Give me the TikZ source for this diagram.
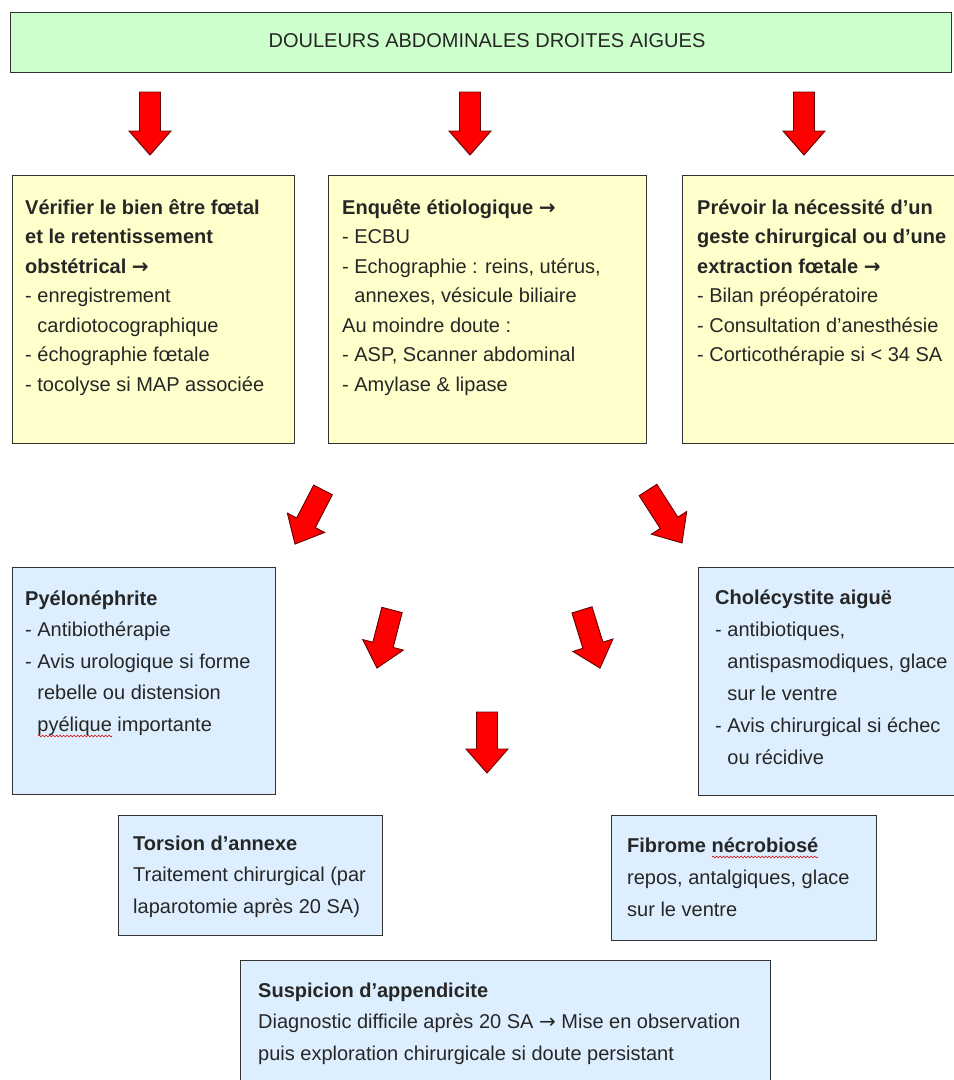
\documentclass[tikz,border=0pt]{standalone}
\usepackage{fontspec}
\setmainfont{Liberation Sans}
\newfontfamily\djv{DejaVu Sans}
\usetikzlibrary{decorations.pathmorphing}
\definecolor{gfill}{HTML}{CCFFCC}
\definecolor{yfill}{HTML}{FFFFCC}
\definecolor{bfill}{HTML}{DDEFFF}
\definecolor{bordc}{HTML}{333333}
\newcommand\arr{{\djv →}}
\newcommand\ind{\hphantom{- }}
\newcommand\blockarrow[4]{%
  \draw[redarr, shift={(#1,#2)}, rotate=#3]
    (-#4,-10.5) -- (#4-24,-10.5) -- (#4-24,-21) -- (#4,0) -- (#4-24,21) -- (#4-24,10.5) -- (-#4,10.5) -- cycle;}
\tikzset{
  boxbase/.style={draw=bordc, line width=1.4pt, anchor=north west, inner sep=0pt},
  gbox/.style={boxbase, fill=gfill},
  ybox/.style={boxbase, fill=yfill},
  bbox/.style={boxbase, fill=bfill},
  txtA/.style={anchor=north west, inner sep=0pt, align=left, text=black!85, font=\fontsize{20}{29.5}\selectfont},
  txtB/.style={anchor=north west, inner sep=0pt, align=left, text=black!85, font=\fontsize{20}{31.5}\selectfont},
  redarr/.style={fill=red, draw=black!60!red, line width=0.9pt, line join=miter},
  squig/.style={draw=red!85!black, line width=0.6pt, decorate, decoration={snake, amplitude=0.9pt, segment length=3.5pt}}
}
\begin{document}
\begin{tikzpicture}[x=1pt,y=-1pt]
\useasboundingbox (0,0) rectangle (954,1080);
\clip (0,0) rectangle (954,1080);
\fill[white] (0,0) rectangle (954,1080);

% title
\node[gbox, minimum width=941, minimum height=60] (top) at (10,12) {};
\node[inner sep=0pt, text=black!85, font=\fontsize{20}{24}\selectfont] (title) at (487,41) {DOULEURS ABDOMINALES DROITES AIGUES};

% top arrows
\blockarrow{150}{123.5}{-90}{31.5}
\blockarrow{470}{123.5}{-90}{31.5}
\blockarrow{804}{123.5}{-90}{31.5}

% yellow boxes
\node[ybox, minimum width=282, minimum height=268] (b1) at (12,175) {};
\node[ybox, minimum width=318, minimum height=268] (b2) at (328,175) {};
\node[ybox, minimum width=290, minimum height=268] (b3) at (682,175) {};

\node[txtA] (t1) at (25,193.4) {\strut\textbf{Vérifier le bien être fœtal}\\
\textbf{et le retentissement}\\
\textbf{obstétrical \arr}\\
- enregistrement\\
\ind cardiotocographique\\
- échographie fœtale\\
- tocolyse si MAP associée};

\node[txtA] (t2) at (342,193.4) {\strut\textbf{Enquête étiologique \arr}\\
- ECBU\\
- Echographie : reins, utérus,\\
\ind annexes, vésicule biliaire\\
Au moindre doute :\\
- ASP, Scanner abdominal\\
- Amylase \& lipase};

\node[txtA] (t3) at (697,193.4) {\strut\textbf{Prévoir la nécessité d’un}\\
\textbf{geste chirurgical ou d’une}\\
\textbf{extraction fœtale \arr}\\
- Bilan préopératoire\\
- Consultation d'anesthésie\\
- Corticothérapie si < 34 SA};

% middle arrows
\blockarrow{309}{517}{-117.4}{30.5}
\blockarrow{665}{516.5}{-57.3}{31.5}
\blockarrow{384.5}{639}{-104.5}{30}
\blockarrow{591}{639}{-72.8}{30.5}
\blockarrow{487}{742.5}{-90}{30.5}

% blue boxes
\node[bbox, minimum width=263, minimum height=227] (pye) at (12,567) {};
\node[bbox, minimum width=270, minimum height=228] (chol) at (698,567) {};
\node[bbox, minimum width=264, minimum height=120] (tors) at (118,815) {};
\node[bbox, minimum width=265, minimum height=125] (fib) at (611,815) {};
\node[bbox, minimum width=530, minimum height=135] (susp) at (240,960) {};

\node[txtB] (tp) at (25,583) {\strut\textbf{Pyélonéphrite}\\
- Antibiothérapie\\
- Avis urologique si forme\\
\ind rebelle ou distension\\
\ind pyélique importante};

\node[txtB, font=\fontsize{20}{32}\selectfont] (tc) at (715,581.6) {\strut\textbf{Cholécystite aiguë}\\
- antibiotiques,\\
\ind antispasmodiques, glace\\
\ind sur le ventre\\
- Avis chirurgical si échec\\
\ind ou récidive};

\node[txtB] (tt) at (133,828) {\strut\textbf{Torsion d’annexe}\\
Traitement chirurgical (par\\
laparotomie après 20 SA)};

\node[txtB, font=\fontsize{20}{32}\selectfont] (tf) at (627,829.6) {\strut\textbf{Fibrome nécrobiosé}\\
repos, antalgiques, glace\\
sur le ventre};

\node[txtB] (ts) at (258,975) {\strut\textbf{Suspicion d’appendicite}\\
Diagnostic difficile après 20 SA \arr{} Mise en observation\\
puis exploration chirurgicale si doute persistant};

% spell-check squiggles
\coordinate (sq1a) at (38,736);
\coordinate (sq1b) at (112,736);
\coordinate (sq2a) at (712,857);
\coordinate (sq2b) at (818,857);
\draw[squig] (sq1a) -- (sq1b);
\draw[squig] (sq2a) -- (sq2b);
\end{tikzpicture}
\end{document}
